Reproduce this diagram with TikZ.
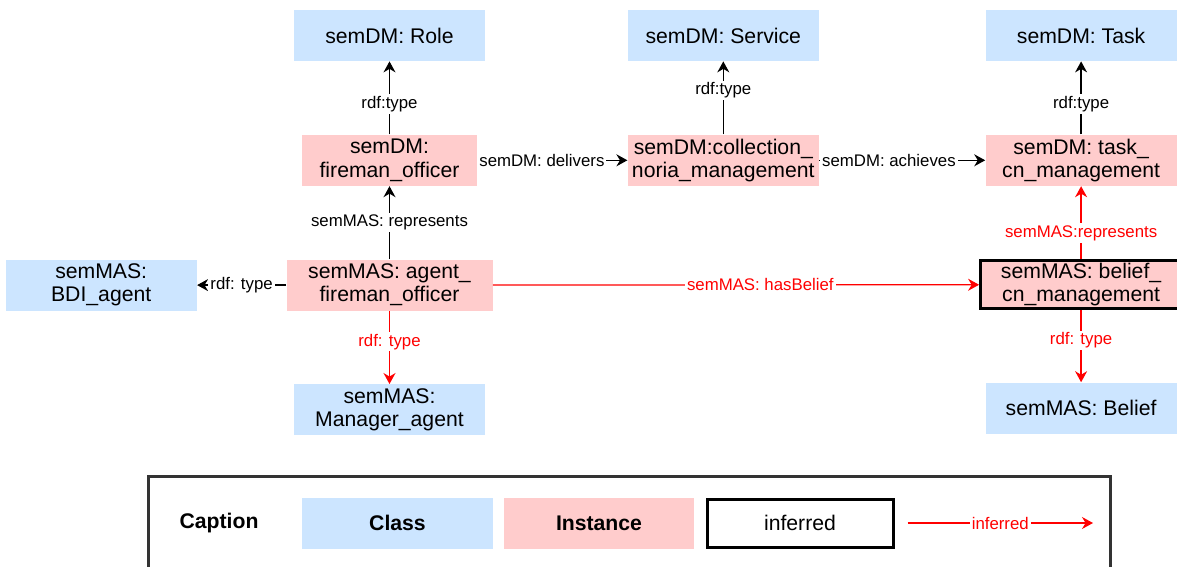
\documentclass[tikz,border=0pt]{standalone}
\usepackage{fontspec}
\setmainfont{Liberation Sans}
\usetikzlibrary{
    arrows.meta,
    positioning,
}
\definecolor{nodecls}{HTML}{CCE5FF}
\definecolor{nodeins}{HTML}{FFCCCC}
\definecolor{edgeinf}{HTML}{FF0000}
\newcommand{\nodefont}{\fontsize{10.6}{11.6}\selectfont}
\newcommand{\edgefont}{\fontsize{8.4}{10}\selectfont}

\begin{document}
\begin{tikzpicture}[
    x=0.5pt, y=-0.5pt,
    >={Stealth[length=5.5pt,width=6pt]},
    box/.style    = {rectangle, minimum height=25.5pt, inner sep=1pt,
                     align=center, font=\nodefont},
    cls/.style    = {box, fill=nodecls, minimum width=95.5pt},
    ins/.style    = {box, fill=nodeins, minimum width=95.5pt},
    infbox/.style = {draw=black, line width=1.5pt, minimum height=24pt},
    elabel/.style = {fill=white, inner sep=1pt, font=\edgefont},
    rel/.style    = {->, line width=0.65pt},
    infrel/.style = {rel, draw=edgeinf, text=edgeinf},
    legtxt/.style = {font=\bfseries\nodefont},
]
\useasboundingbox (0,0) rectangle (1177,567);

%% ── Nodes ────────────────────────────────────────────────────────────────────
\node[cls] (role) at (389.5,35.5) {semDM: Role};
\node[ins, minimum width=87.5pt, below=36.5pt of role] (fireman)
     {semDM:\\fireman\_officer};
\node[ins, minimum width=103pt, below=36.5pt of fireman] (agent)
     {semMAS: agent\_\\fireman\_officer};
\node[cls, below=36.5pt of agent] (manager) {semMAS:\\Manager\_agent};
\node[cls, left=44.5pt of agent] (bdi) {semMAS:\\BDI\_agent};

\node[ins, right=75pt of fireman] (collection)
     {semDM:collection\_\\noria\_management};
\node[cls, above=36.5pt of collection] (service) {semDM: Service};

\node[ins, right=83pt of collection] (taskcn)
     {semDM: task\_\\cn\_management};
\node[cls, above=36.5pt of taskcn] (task) {semDM: Task};
\node[ins, infbox, minimum width=100.5pt, below=36.5pt of taskcn] (beliefcn)
     {semMAS: belief\_\\cn\_management};
\node[cls, below=36pt of beliefcn] (belief) {semMAS: Belief};

%% ── Asserted relations ───────────────────────────────────────────────────────
\draw[rel] (fireman) -- node[elabel, pos=0.42] {rdf:type} (role);
\draw[rel] (collection) -- node[elabel, pos=0.6] {rdf:type} (service);
\draw[rel] (taskcn) -- node[elabel, pos=0.42] {rdf:type} (task);
\draw[rel] (agent) -- node[elabel] {semMAS: represents} (fireman);
\draw[rel] (agent) -- node[elabel] {rdf: type} (bdi);
\draw[rel] (fireman) -- node[elabel, pos=0.43] {semDM: delivers} (collection);
\draw[rel] (collection) -- node[elabel, pos=0.42] {semDM: achieves} (taskcn);

%% ── Inferred relations ───────────────────────────────────────────────────────
\draw[infrel] (agent) -- node[elabel, pos=0.55] {semMAS: hasBelief} (beliefcn);
\draw[infrel] (beliefcn) -- node[elabel, pos=0.36] {semMAS:represents} (taskcn);
\draw[infrel] (agent) -- node[elabel, pos=0.42] {rdf: type} (manager);
\draw[infrel] (beliefcn) -- node[elabel, pos=0.42] {rdf: type} (belief);

%% ── Caption ──────────────────────────────────────────────────────────────────
\draw[line width=1.1pt, draw=black!80] (148.5,476.5) rectangle (1110.5,600);
\node[legtxt] (caption) at (219,523) {Caption};
\node[cls, legtxt] (lgcls) at (397.5,523) {Class};
\node[ins, legtxt, minimum width=95pt] (lgins) at (599,523) {Instance};
\node[box, infbox, minimum width=93pt] (lginf) at (800,523) {inferred};
\coordinate (lgfrom) at (907.5,523);
\coordinate (lgto) at (1093,523);
\draw[infrel] (lgfrom) -- node[elabel] {inferred} (lgto);

\end{tikzpicture}
\end{document}
